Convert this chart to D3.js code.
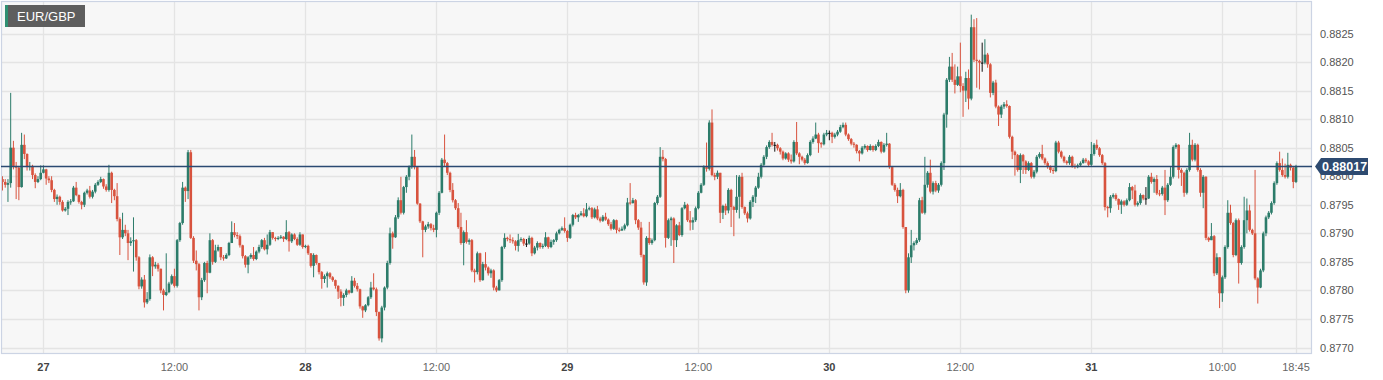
<!DOCTYPE html>
<html>
<head>
<meta charset="utf-8">
<title>EUR/GBP</title>
<script src="https://d3js.org/d3.v7.min.js"></script>
<style>
  body { margin: 0; background: #fff; font-family: Arial, "Liberation Sans", sans-serif; }
</style>
</head>
<body>
<div id="chart"></div>
<script>
// 15 minute candles, values in pips above 0.8770 (open = previous close)
var pipBase = 0.8770
var lastPrice = 0.88017
var firstOpen = 29.5

var closes = [
  29.0,28.5,28.8,35.0,31.8,31.5,28.1,35.5,33.9,31.6,
  31.8,30.2,29.0,29.5,30.6,31.2,29.6,29.3,27.6,26.0,
  26.4,25.5,24.0,24.3,25.5,25.6,28.0,26.7,25.5,25.0,
  27.1,27.5,26.4,27.3,28.5,29.0,29.5,28.2,27.6,30.6,
  27.6,26.5,22.5,19.3,20.6,20.0,18.3,18.6,18.8,15.8,
  10.7,11.9,7.9,8.5,15.8,14.2,14.5,13.8,10.0,9.2,
  9.7,11.2,12.5,10.8,18.8,21.8,28.0,27.4,34.2,19.2,
  15.2,14.6,8.8,11.8,14.8,13.1,18.8,15.0,17.0,17.6,
  15.8,15.6,16.2,18.3,20.2,19.7,19.5,17.9,16.0,14.5,
  15.8,16.2,15.5,16.8,17.6,18.8,17.2,18.0,20.2,19.2,
  19.0,19.2,19.4,19.0,20.2,18.6,19.8,19.0,18.0,19.8,
  17.6,17.8,16.5,14.3,16.2,14.8,13.2,12.0,12.5,13.0,
  12.3,11.8,10.8,9.8,8.7,9.2,10.0,9.6,11.7,10.8,
  10.2,7.2,6.5,7.4,8.8,10.5,10.2,6.2,1.6,7.0,
  10.5,14.8,20.0,19.3,22.8,25.8,23.6,28.1,29.9,31.6,
  33.4,31.6,25.2,22.1,20.6,21.2,21.6,20.9,20.6,23.6,
  27.1,32.9,32.3,30.6,27.6,25.8,24.4,21.1,18.3,20.2,
  18.5,18.8,13.5,13.2,16.5,11.8,14.6,14.0,13.0,13.5,
  10.5,10.0,11.8,17.6,19.2,19.0,18.8,18.6,17.8,18.8,
  19.0,18.2,18.2,19.2,16.5,17.5,18.3,17.6,17.8,19.3,
  17.6,18.5,18.8,20.0,20.6,20.9,20.4,19.2,21.5,23.2,
  22.8,23.2,23.5,23.0,24.2,24.4,22.8,24.2,22.6,22.2,
  22.9,22.4,21.6,20.8,22.3,20.6,20.5,20.8,21.4,25.4,
  25.3,25.8,22.3,21.0,16.2,11.4,19.2,18.3,18.8,25.3,
  26.4,33.4,33.0,19.2,22.3,22.6,18.8,21.4,19.7,24.4,
  25.0,22.3,21.9,22.3,24.4,27.1,28.5,31.6,31.3,39.4,
  30.2,29.9,30.6,23.6,24.8,24.0,27.6,24.6,24.1,26.4,
  29.9,24.6,23.5,22.6,25.5,26.4,28.0,29.9,32.0,33.4,
  35.1,36.0,35.5,35.5,34.9,34.3,33.1,34.0,32.9,32.6,
  36.0,34.0,33.4,32.9,32.3,33.7,36.0,36.6,37.3,35.8,
  35.6,37.3,37.6,37.6,36.9,37.3,37.8,38.6,39.0,37.3,
  36.5,35.7,35.5,34.4,34.0,35.0,35.3,34.6,35.3,34.6,
  35.3,36.0,34.3,35.5,35.7,31.6,28.5,27.6,26.5,27.6,
  21.1,10.0,15.8,17.9,18.3,18.8,25.8,23.6,28.5,30.6,
  27.3,28.8,27.5,28.5,32.3,40.8,46.9,49.2,46.9,46.0,
  47.5,45.8,45.0,47.2,43.6,56.1,50.4,50.2,49.9,49.9,
  51.3,49.6,44.6,46.4,42.2,40.8,42.2,42.6,42.3,36.9,
  34.3,33.7,31.1,33.7,32.6,31.1,32.3,29.9,30.8,33.4,
  33.9,33.1,32.3,31.6,31.1,30.9,35.9,34.3,33.4,32.6,
  32.3,33.4,31.8,31.6,31.9,32.3,32.9,32.6,32.0,33.9,
  35.5,34.9,33.7,32.3,24.6,24.4,26.4,26.7,26.0,25.0,
  25.6,25.0,25.8,28.1,27.5,25.0,25.3,26.7,26.1,26.1,
  29.9,29.0,29.5,27.0,26.9,28.0,25.8,28.5,29.9,35.1,
  35.5,31.1,30.6,27.1,31.1,35.5,32.9,35.5,31.1,27.1,
  29.9,19.2,18.8,19.5,13.0,15.8,9.5,12.3,17.6,23.6,
  21.8,16.2,22.3,14.8,17.6,22.3,24.0,20.6,20.0,12.1,
  10.5,13.5,20.0,22.8,23.6,25.3,28.8,32.3,31.1,30.2,
  29.9,32.0,31.5,29.0,31.7
]

var highs = [
  30.0,29.5,29.5,44.6,36.2,32.5,31.8,37.6,37.3,34.0,
  32.5,32.0,30.5,30.0,31.9,31.9,31.3,30.0,30.0,27.8,
  26.8,26.6,25.8,24.6,25.8,26.0,28.3,29.0,26.8,25.7,
  27.3,27.8,28.3,27.6,28.8,29.3,29.9,29.6,28.6,32.0,
  30.8,27.8,28.8,22.8,23.6,21.5,20.6,19.3,22.8,19.0,
  16.0,12.3,12.7,9.7,16.3,16.0,15.0,14.8,13.8,10.3,
  16.5,11.5,12.8,13.8,19.0,22.0,29.0,28.2,34.6,34.6,
  19.5,17.0,14.8,12.2,15.0,15.2,20.0,19.0,18.0,18.0,
  17.6,16.2,16.5,18.5,22.1,21.8,20.2,19.8,18.0,16.2,
  16.0,16.5,17.6,17.0,18.0,19.0,19.2,19.8,20.6,20.2,
  19.4,19.5,19.7,19.5,22.3,20.4,20.0,20.0,19.3,20.2,
  19.8,18.0,18.0,16.5,16.5,16.3,14.8,13.4,12.8,13.3,
  13.2,12.5,11.9,10.9,10.2,9.5,10.3,10.1,12.5,12.2,
  11.3,10.3,7.3,7.6,9.0,11.5,13.0,10.5,6.3,7.3,
  10.7,15.2,21.0,20.3,23.2,26.3,29.9,28.3,30.2,31.9,
  37.3,34.6,31.7,25.3,22.2,21.5,22.0,21.8,21.5,23.8,
  27.4,33.2,37.3,32.5,30.8,28.8,26.0,25.3,23.6,20.5,
  22.3,19.1,19.0,13.8,16.8,16.6,15.0,16.7,14.2,13.8,
  13.7,10.8,12.0,17.8,20.0,19.4,19.8,19.3,18.8,19.9,
  19.3,19.2,19.0,19.6,19.4,17.8,18.6,18.4,18.2,20.2,
  19.4,18.9,19.0,20.3,20.8,21.2,22.8,20.6,21.7,23.4,
  23.6,23.4,23.9,24.4,25.3,24.7,24.6,24.5,24.8,22.9,
  23.2,23.6,22.6,22.0,22.5,22.4,21.0,21.2,21.7,26.2,
  28.8,26.2,26.0,22.5,22.0,16.3,19.5,22.0,19.1,25.5,
  26.7,35.1,34.6,33.2,22.6,22.9,22.8,21.6,22.0,24.6,
  25.5,25.2,23.9,22.8,24.7,27.4,28.8,31.9,35.9,39.8,
  41.7,30.6,31.0,30.6,25.0,25.2,27.9,27.8,24.8,30.2,
  30.2,30.6,24.7,23.8,25.8,26.7,28.3,30.6,32.3,33.7,
  35.4,36.3,37.6,36.0,35.7,35.1,34.5,34.2,34.2,33.8,
  36.3,39.5,34.2,33.6,33.2,34.0,36.3,37.0,39.4,37.6,
  36.0,37.6,38.1,38.0,37.8,37.6,38.1,39.0,39.4,39.4,
  37.5,36.7,36.0,35.6,34.6,35.3,35.6,35.4,35.6,35.4,
  35.6,36.4,36.1,35.8,37.6,35.8,31.8,28.8,28.0,28.8,
  27.8,21.1,16.5,20.6,18.6,19.2,26.2,26.4,33.4,30.9,
  32.9,29.1,29.2,28.8,32.6,41.1,47.2,50.9,51.6,49.6,
  49.2,53.4,46.3,48.3,48.7,58.3,57.5,57.7,50.4,53.4,
  54.0,51.6,49.8,46.7,46.9,42.4,42.5,43.0,43.3,42.4,
  37.1,34.5,33.9,34.0,33.9,32.8,32.6,32.5,31.1,33.7,
  34.2,35.5,33.3,32.6,31.9,31.5,36.2,36.2,34.5,33.6,
  32.8,33.7,33.6,32.2,32.2,32.6,33.2,33.2,32.8,36.0,
  35.8,36.4,35.1,33.9,32.5,24.8,26.7,27.0,27.0,26.1,
  25.9,25.8,26.1,28.8,28.3,28.5,25.6,27.0,26.8,28.1,
  30.2,30.6,29.8,30.2,27.6,28.3,31.1,28.8,31.6,35.4,
  35.8,35.6,31.4,30.8,31.4,37.6,36.4,35.8,35.7,31.4,
  30.2,30.0,19.4,21.8,19.7,16.5,15.8,12.6,17.9,25.8,
  25.0,22.0,22.6,22.6,17.9,26.4,26.1,25.0,20.8,31.1,
  12.3,13.8,20.3,23.1,23.9,25.6,29.1,32.6,34.3,33.1,
  32.2,34.1,32.2,31.7,32.0
]

var lows = [
  27.5,28.0,25.5,28.0,31.2,26.0,25.8,28.0,33.0,31.0,
  31.0,29.5,27.9,28.8,29.3,30.5,28.5,28.8,27.2,25.5,
  25.0,25.0,23.8,23.8,23.2,25.0,25.5,26.5,25.2,24.2,
  24.6,26.8,26.1,26.1,27.0,28.3,28.8,27.8,27.3,27.3,
  25.3,25.8,22.1,16.2,19.0,19.5,15.3,17.8,13.3,15.2,
  10.2,10.3,7.0,7.6,8.2,12.5,13.8,13.3,9.5,6.5,
  9.0,9.5,11.0,10.5,10.5,18.5,21.5,25.5,26.0,19.0,
  14.8,13.5,6.5,8.3,11.5,9.5,13.0,14.5,14.8,16.8,
  15.3,15.2,15.5,16.0,18.3,19.3,19.0,17.5,15.6,14.0,
  13.0,15.5,15.2,15.3,16.5,17.3,17.0,16.3,17.8,18.9,
  18.6,18.8,19.0,18.5,18.8,16.8,18.3,18.8,17.8,17.8,
  17.3,17.4,16.2,14.0,12.3,14.5,12.8,10.3,11.3,10.5,
  12.0,11.5,10.3,8.5,7.2,7.3,8.8,9.3,9.5,10.5,
  9.8,6.8,5.2,6.2,7.2,8.5,10.0,5.5,1.2,0.9,
  6.5,10.2,14.5,17.3,19.2,22.5,23.3,23.3,27.1,29.3,
  31.3,31.2,25.0,21.8,15.8,20.2,20.8,20.5,20.2,19.3,
  23.2,27.0,31.8,30.2,27.2,25.4,24.1,20.8,18.0,14.4,
  18.2,18.0,13.2,11.4,12.8,11.5,11.7,13.5,12.6,12.2,
  10.0,9.7,10.0,11.5,17.3,18.6,18.3,18.2,17.0,16.8,
  18.5,17.8,17.6,18.0,16.0,16.3,17.0,17.3,17.3,17.6,
  17.3,17.4,18.0,18.5,19.8,20.4,20.1,18.5,19.0,21.2,
  22.5,22.0,23.0,22.8,22.8,24.0,22.5,22.6,22.3,21.9,
  22.0,22.2,21.3,20.5,20.6,20.0,20.2,20.4,20.5,21.2,
  25.0,25.2,21.6,20.6,15.8,11.0,10.8,18.0,18.0,18.6,
  25.0,26.2,32.6,17.5,19.0,17.8,14.8,17.6,19.5,19.4,
  24.2,22.0,20.5,20.6,22.0,24.2,27.0,28.3,30.8,31.0,
  30.0,29.3,29.5,21.8,22.5,23.2,23.5,21.1,19.5,23.6,
  22.6,24.3,23.2,21.9,22.4,24.6,25.3,27.8,29.6,31.6,
  33.0,34.8,35.2,34.3,34.5,33.8,32.8,32.9,32.5,32.2,
  32.4,33.7,32.1,32.6,32.0,32.2,33.5,35.7,36.5,34.1,
  35.0,35.4,37.0,36.3,35.8,36.6,37.0,37.6,38.4,37.0,
  36.2,35.4,35.0,34.0,32.6,33.8,34.7,34.3,34.5,34.3,
  34.4,35.1,34.0,34.1,35.2,31.3,28.3,27.3,25.3,26.3,
  20.8,9.5,9.6,14.8,17.0,18.0,18.5,23.4,23.3,28.0,
  27.0,26.8,27.2,27.1,28.2,31.1,38.5,46.5,46.5,44.5,
  45.8,44.7,40.4,43.0,41.7,43.3,50.0,45.5,45.2,48.3,
  49.6,49.0,43.8,44.2,41.9,38.8,40.2,41.8,42.0,36.6,
  33.0,30.1,30.8,28.8,30.4,30.4,30.9,29.6,29.6,30.5,
  33.1,32.8,32.0,31.3,30.6,30.4,30.7,34.0,33.1,32.3,
  32.0,32.0,31.5,31.3,31.4,31.8,32.2,32.3,31.7,31.8,
  33.6,34.6,33.4,32.0,24.0,22.8,23.6,26.1,25.7,24.1,
  23.4,24.7,24.8,25.6,26.0,24.7,24.7,25.0,25.8,25.0,
  26.0,28.7,27.1,26.7,26.5,26.6,23.2,25.5,28.3,29.6,
  34.8,29.6,28.3,26.4,26.8,30.8,32.6,32.6,30.8,26.4,
  24.4,18.8,18.5,18.8,12.5,12.7,6.9,8.0,12.0,17.3,
  21.5,15.8,16.0,11.2,14.5,17.3,20.0,20.3,19.7,11.8,
  7.7,10.4,13.2,19.5,22.5,23.3,25.0,28.5,30.8,29.9,
  29.6,29.6,31.0,27.9,28.8
]

// x axis: candle index of each label
var xTickIndex = [15, 63, 111, 159, 207, 255, 303, 351, 399, 447, 474]
var xTickLabels = ["27", "12:00", "28", "12:00", "29", "12:00", "30", "12:00", "31", "10:00", "18:45"]
var dayLabels = ["27", "28", "29", "30", "31"]
var yTicks = [0.8770, 0.8775, 0.8780, 0.8785, 0.8790, 0.8795, 0.8800, 0.8805, 0.8810, 0.8815, 0.8820, 0.8825]

var width = 1383, height = 380
var plot = {left: 1, top: 1, right: 1312, bottom: 354}

var up = "#2c7c6a", down = "#d8533e", flat = "#111111"

var bars = closes.map(function(c, i) {
  var o = i ? closes[i - 1] : firstOpen
  return {
    i: i,
    o: pipBase + o / 10000,
    c: pipBase + c / 10000,
    h: pipBase + Math.max(highs[i], o, c) / 10000,
    l: pipBase + Math.min(lows[i], o, c) / 10000
  }
})

var x = d3.scaleLinear().domain([0, closes.length - 1]).range([2.5, 1296])
var y = d3.scaleLinear().domain([0.8770, 0.8825]).range([347.5, 33.5])

var svg = d3.select("#chart").append("svg")
  .attr("width", width)
  .attr("height", height)
  .style("display", "block")

svg.append("defs").append("clipPath").attr("id", "clip")
  .append("rect")
  .attr("x", plot.left).attr("y", plot.top)
  .attr("width", plot.right - plot.left).attr("height", plot.bottom - plot.top)

// plot background
svg.append("rect")
  .attr("x", plot.left).attr("y", plot.top)
  .attr("width", plot.right - plot.left).attr("height", plot.bottom - plot.top)
  .attr("fill", "#f7f7f7")

// grid
svg.append("g").selectAll("line").data(yTicks).enter().append("line")
  .attr("x1", plot.left).attr("x2", plot.right)
  .attr("y1", function(d) { return Math.round(y(d)) + 0.5 })
  .attr("y2", function(d) { return Math.round(y(d)) + 0.5 })
  .attr("stroke", "#e4e4e4").attr("stroke-width", 1.3)

svg.append("g").selectAll("line").data(xTickIndex).enter().append("line")
  .attr("x1", function(d) { return Math.round(x(d)) + 0.5 })
  .attr("x2", function(d) { return Math.round(x(d)) + 0.5 })
  .attr("y1", plot.top).attr("y2", plot.bottom)
  .attr("stroke", "#e4e4e4").attr("stroke-width", 1.3)

// candles
var candles = svg.append("g").attr("clip-path", "url(#clip)")
  .selectAll("g").data(bars).enter().append("g")

function colorOf(d) {
  if (Math.abs(d.o - d.c) < 1e-7) return flat
  return d.c > d.o ? up : down
}

candles.append("line")
  .attr("x1", function(d) { return x(d.i) })
  .attr("x2", function(d) { return x(d.i) })
  .attr("y1", function(d) { return y(d.h) })
  .attr("y2", function(d) { return y(d.l) })
  .attr("stroke", colorOf)
  .attr("stroke-width", 1)

candles.append("rect")
  .attr("x", function(d) { return x(d.i) - 1.3 })
  .attr("width", 2.6)
  .attr("y", function(d) { return y(Math.max(d.o, d.c)) })
  .attr("height", function(d) { return Math.max(1, Math.abs(y(d.o) - y(d.c))) })
  .attr("fill", colorOf)

// plot border
svg.append("rect")
  .attr("x", plot.left + 0.5).attr("y", plot.top + 0.5)
  .attr("width", plot.right - plot.left - 1).attr("height", plot.bottom - plot.top - 1)
  .attr("fill", "none").attr("stroke", "#ccd4e4").attr("stroke-width", 1.2)

// last price line
svg.append("line")
  .attr("x1", plot.left).attr("x2", plot.right)
  .attr("y1", y(lastPrice)).attr("y2", y(lastPrice))
  .attr("stroke", "#2b4a72").attr("stroke-width", 1.3)

// y labels
svg.append("g").selectAll("text").data(yTicks).enter().append("text")
  .attr("x", 1320)
  .attr("y", function(d) { return y(d) + 4 })
  .attr("font-size", "11px")
  .attr("fill", "#555")
  .text(function(d) { return d.toFixed(4) })

// x labels
svg.append("g").selectAll("text").data(xTickIndex).enter().append("text")
  .attr("x", function(d) { return x(d) })
  .attr("y", 371)
  .attr("text-anchor", "middle")
  .attr("font-size", "11px")
  .attr("font-weight", function(d, i) { return dayLabels.indexOf(xTickLabels[i]) >= 0 ? "bold" : "normal" })
  .attr("fill", function(d, i) { return dayLabels.indexOf(xTickLabels[i]) >= 0 ? "#444" : "#666" })
  .text(function(d, i) { return xTickLabels[i] })

// price tag (covers the 0.8800 label, as in the original)
var py = y(lastPrice)
svg.append("path")
  .attr("d", "M1315," + py + " L1321," + (py - 8.5) + " H1368 V" + (py + 8.5) + " H1321 Z")
  .attr("fill", "#2d4a70")
svg.append("text")
  .attr("x", 1344.5).attr("y", py + 4.5)
  .attr("text-anchor", "middle")
  .attr("font-size", "12.5px").attr("font-weight", "bold")
  .attr("fill", "#fff")
  .text(lastPrice.toFixed(5))

// title box
svg.append("rect").attr("x", 5).attr("y", 5).attr("width", 80).attr("height", 22).attr("fill", "#5e5e5e")
svg.append("rect").attr("x", 5).attr("y", 5).attr("width", 3).attr("height", 22).attr("fill", "#2f8f72")
svg.append("text")
  .attr("x", 17).attr("y", 21)
  .attr("font-size", "13px")
  .attr("fill", "#fff")
  .text("EUR/GBP")
</script>
</body>
</html>
